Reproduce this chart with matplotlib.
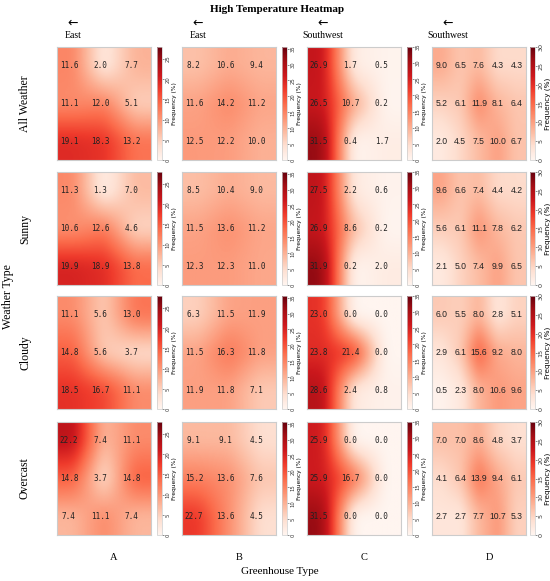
import numpy as np
import matplotlib
matplotlib.use("Agg")
import matplotlib.pyplot as plt

weather_types = ["All Weather", "Sunny", "Cloudy", "Overcast"]
greenhouse_types = ["A", "B", "C", "D"]
orientations = ["East", "East", "Southwest", "Southwest"]

grid_A = [
    [[11.6, 2.0, 7.7], [11.1, 12.0, 5.1], [19.1, 18.3, 13.2]],
    [[11.3, 1.3, 7.0], [10.6, 12.6, 4.6], [19.9, 18.9, 13.8]],
    [[11.1, 5.6, 13.0], [14.8, 5.6, 3.7], [18.5, 16.7, 11.1]],
    [[22.2, 7.4, 11.1], [14.8, 3.7, 14.8], [7.4, 11.1, 7.4]],
]
grid_B = [
    [[8.2, 10.6, 9.4], [11.6, 14.2, 11.2], [12.5, 12.2, 10.0]],
    [[8.5, 10.4, 9.0], [11.5, 13.6, 11.2], [12.3, 12.3, 11.0]],
    [[6.3, 11.5, 11.9], [11.5, 16.3, 11.8], [11.9, 11.8, 7.1]],
    [[9.1, 9.1, 4.5], [15.2, 13.6, 7.6], [22.7, 13.6, 4.5]],
]
grid_C = [
    [[26.9, 1.7, 0.5], [26.5, 10.7, 0.2], [31.5, 0.4, 1.7]],
    [[27.5, 2.2, 0.6], [26.9, 8.6, 0.2], [31.9, 0.2, 2.0]],
    [[23.0, 0.0, 0.0], [23.8, 21.4, 0.0], [28.6, 2.4, 0.8]],
    [[25.9, 0.0, 0.0], [25.9, 16.7, 0.0], [31.5, 0.0, 0.0]],
]
grid_D = [
    [[9.0, 6.5, 7.6, 4.3, 4.3], [5.2, 6.1, 11.9, 8.1, 6.4], [2.0, 4.5, 7.5, 10.0, 6.7]],
    [[9.6, 6.6, 7.4, 4.4, 4.2], [5.6, 6.1, 11.1, 7.8, 6.2], [2.1, 5.0, 7.4, 9.9, 6.5]],
    [[6.0, 5.5, 8.0, 2.8, 5.1], [2.9, 6.1, 15.6, 9.2, 8.0], [0.5, 2.3, 8.0, 10.6, 9.6]],
    [[7.0, 7.0, 8.6, 4.8, 3.7], [4.1, 6.4, 13.9, 9.4, 6.1], [2.7, 2.7, 7.7, 10.7, 5.3]],
]
grids = [grid_A, grid_B, grid_C, grid_D]

# colour scale ranges per greenhouse column
vmax_list = [28, 35.5, 35, 30]
tick_max = [25, 35, 35, 30]

W, H = 550, 581
fig = plt.figure(figsize=(W / 100, H / 100), dpi=100)


def fx(x):
    return x / W


def fy(y):
    return 1 - y / H


def interp_axis(arr, n_out, axis):
    """Linear interpolation between cell centres along one axis, clamped at edges."""
    n = arr.shape[axis]
    pos = np.linspace(-0.5, n - 0.5, n_out)
    pos = np.clip(pos, 0, n - 1)
    i0 = np.clip(np.floor(pos).astype(int), 0, n - 2)
    t = pos - i0
    a = np.take(arr, i0, axis=axis)
    b = np.take(arr, i0 + 1, axis=axis)
    shape = [1, 1]
    shape[axis] = n_out
    t = t.reshape(shape)
    return a * (1 - t) + b * t


def blur_axis(arr, sigma, axis):
    r = int(3 * sigma) + 1
    k = np.exp(-0.5 * (np.arange(-r, r + 1) / sigma) ** 2)
    k /= k.sum()
    pad = [(0, 0), (0, 0)]
    pad[axis] = (r, r)
    p = np.pad(arr, pad, mode="edge")
    return np.apply_along_axis(lambda v: np.convolve(v, k, mode="valid"), axis, p)


def upsample(data, per_cell=40):
    ny = data.shape[0] * per_cell
    nx = data.shape[1] * per_cell
    out = interp_axis(data, ny, 0)
    out = interp_axis(out, nx, 1)
    out = blur_axis(out, per_cell * 0.18, 0)
    out = blur_axis(out, per_cell * 0.18, 1)
    return out


row_tops = [47, 172, 296, 422]
hm_h = 113
col_lefts = [57, 182, 307, 432]
hm_w = 94
cb_lefts = [157, 282, 407, 530]
cb_w = 5

serif = ["Liberation Serif", "DejaVu Serif"]

for c in range(4):
    for r in range(4):
        data = np.array(grids[c][r])
        ax = fig.add_axes([fx(col_lefts[c]), fy(row_tops[r] + hm_h), hm_w / W, hm_h / H])
        nrows, ncols = data.shape
        im = ax.imshow(upsample(data), cmap="Reds", vmin=0, vmax=vmax_list[c],
                       interpolation="bilinear", aspect="auto",
                       extent=(-0.5, ncols - 0.5, nrows - 0.5, -0.5))
        for i in range(nrows):
            for j in range(ncols):
                if c < 3:
                    ax.text(j - 0.12, i, f"{data[i, j]:.1f}", ha="center", va="center",
                            fontsize=5.5, family="DejaVu Sans Mono", color="#222222")
                else:
                    ax.text(j, i, f"{data[i, j]:.1f}", ha="center", va="center",
                            fontsize=6.2, family="Liberation Sans", color="#222222")
        ax.set_xlim(-0.5, ncols - 0.5)
        ax.set_ylim(nrows - 0.5, -0.5)
        ax.set_xticks([])
        ax.set_yticks([])
        for sp in ax.spines.values():
            sp.set_color("#cccccc")
            sp.set_linewidth(0.8)
        cax = fig.add_axes([fx(cb_lefts[c]), fy(row_tops[r] + hm_h), cb_w / W, hm_h / H])
        cb = fig.colorbar(im, cax=cax)
        cb.set_ticks(np.arange(0, tick_max[c] + 0.1, 5))
        cb.outline.set_edgecolor("#cccccc")
        cb.outline.set_linewidth(0.5)
        cax.tick_params(labelsize=3.8 if c < 3 else 4.6, length=1.5, width=0.4, pad=1,
                        colors="#333333")
        for t in cax.get_yticklabels():
            t.set_rotation(90)
            t.set_va("center")
        cb.set_label("Frequency (%)", fontsize=4.2 if c < 3 else 5.2, labelpad=1)

# title
fig.text(fx(277), fy(10), "High Temperature Heatmap", ha="center", va="center",
         fontsize=8, fontweight="bold", family=serif)

# orientation arrows
for c in range(4):
    fig.text(fx(col_lefts[c] + 16), fy(23), "\u2190", ha="center", va="center",
             fontsize=9, family="DejaVu Sans")
    fig.text(fx(col_lefts[c] + 16), fy(35), orientations[c], ha="center", va="center",
             fontsize=7, family=serif)

# row labels
for r in range(4):
    fig.text(fx(25), fy(row_tops[r] + hm_h / 2), weather_types[r], ha="center", va="center",
             rotation=90, fontsize=8.5, family=serif)
fig.text(fx(8), fy(297), "Weather Type", ha="center", va="center", rotation=90,
         fontsize=8.5, family=serif)

# column labels
for c in range(4):
    fig.text(fx(col_lefts[c] + 57), fy(557), greenhouse_types[c], ha="center", va="center",
             fontsize=7.5, family=serif)
fig.text(fx(280), fy(572), "Greenhouse Type", ha="center", va="center",
         fontsize=8, family=serif)

fig.savefig("out.png", dpi=100)
